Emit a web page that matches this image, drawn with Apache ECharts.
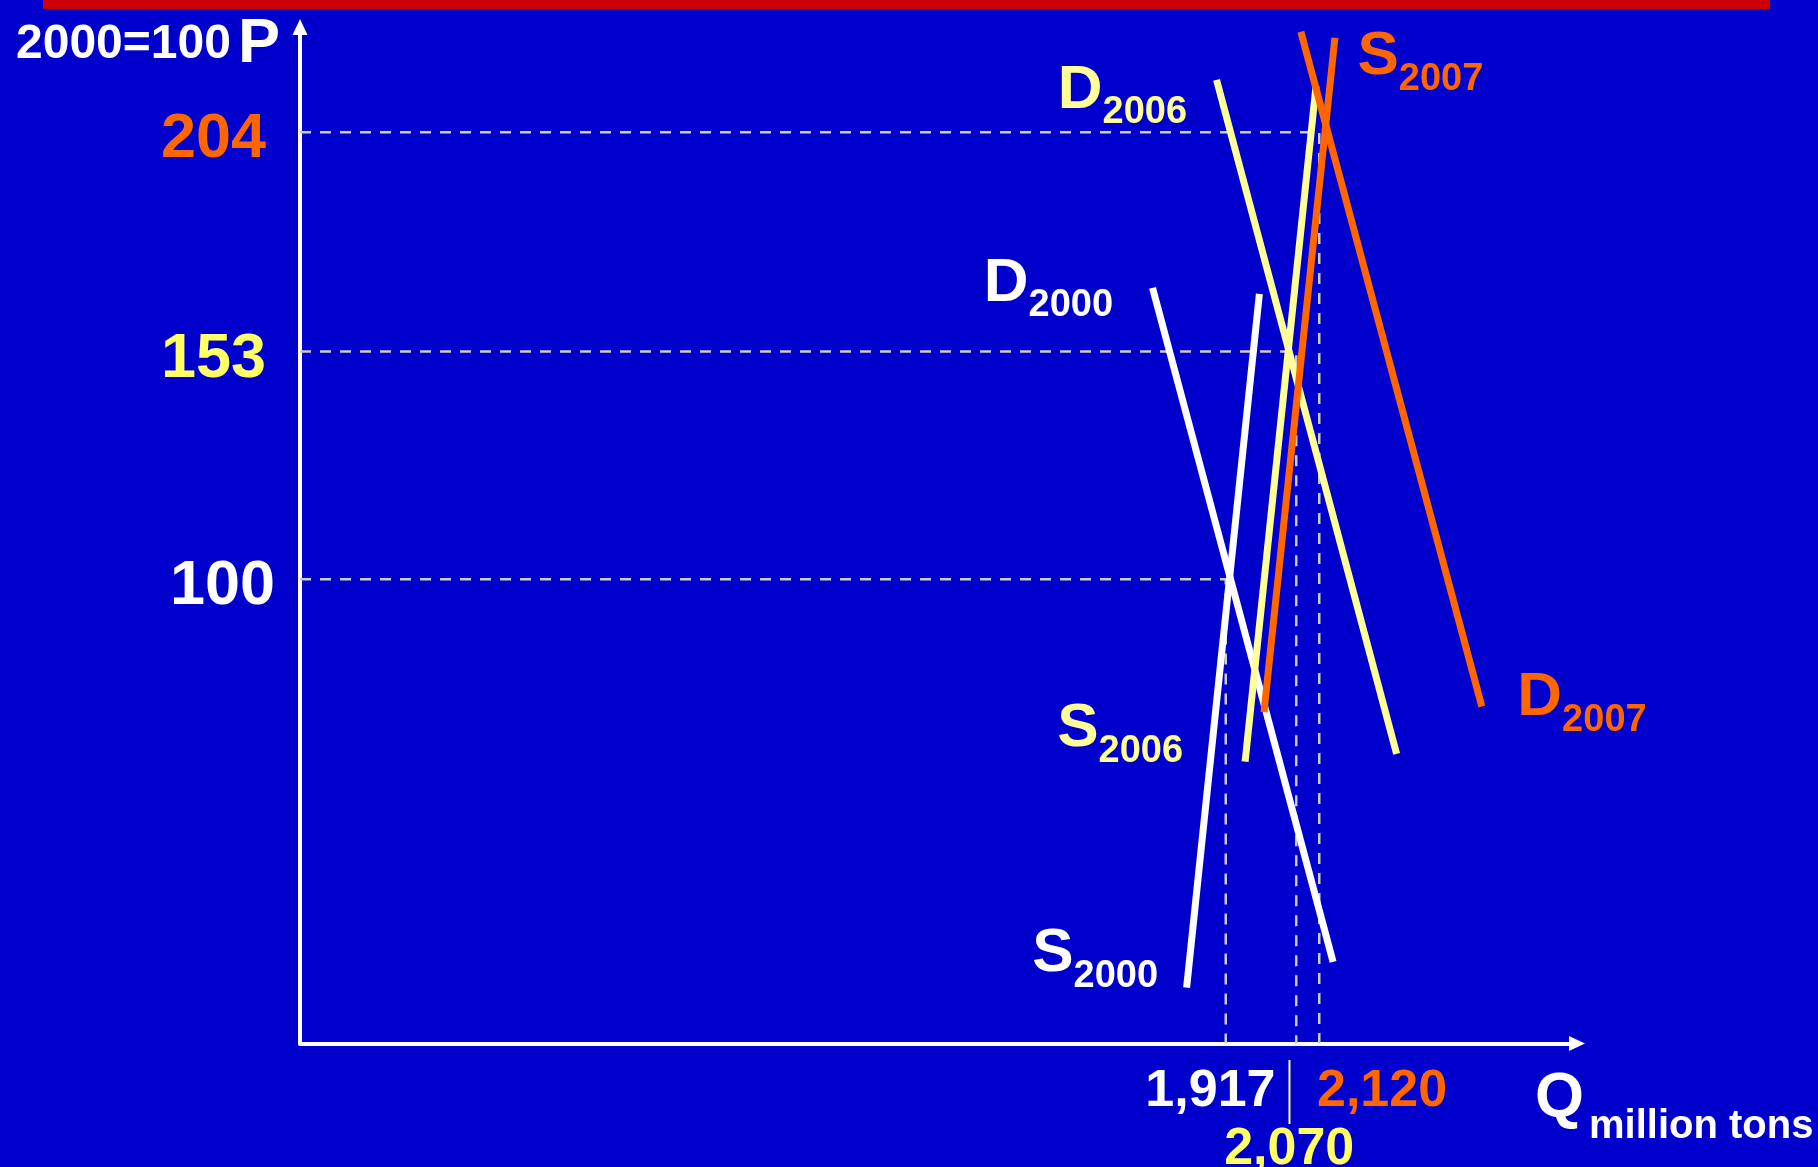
<!DOCTYPE html>
<html><head><meta charset="utf-8">
<script src="https://cdn.jsdelivr.net/npm/echarts@6/dist/echarts.min.js"></script>
<style>html,body{margin:0;padding:0;background:#0000CC;}#c{width:1818px;height:1167px;}</style>
</head><body><div id="c"></div>
<script>
// ---- data ----
const qTicks = [1917, 2070, 2120];   // equilibrium quantities (million tons)
const pTicks = [100, 153, 204];      // equilibrium prices (2000=100)
const S2000 = [[1990, 166.4], [1832, 5.0]];
const D2000 = [[1758, 167.8], [2150, 11.0]];
const S2006 = [[2113, 214.8], [1959, 57.6]];
const D2006 = [[1897, 216.2], [2288, 59.4]];
const S2007 = [[2154, 226.0], [2000, 69.1]];
const D2007 = [[2080, 227.4], [2473, 70.4]];

// ---- styling ----
const FONT = '"Liberation Sans", Arial, sans-serif';
const X_MIN = -93, X_MAX = 2679.6, Y_MIN = -8, Y_MAX = 228.5;
const WHITE = '#FFFFFF', YEL = '#FFFF99', YEL2 = '#FFFF66', ORG = '#FF6600';

function curve(name, data, color, labelIdx, align, offset) {
  const main = name.charAt(0), sub = name.slice(1);
  return {
    type: 'line', name: name, z: 5, silent: true, animation: false,
    symbol: 'circle', symbolSize: 1, showSymbol: true,
    itemStyle: { color: 'rgba(0,0,0,0)' },
    lineStyle: { color: color, width: 7 },
    emphasis: { disabled: true },
    data: data.map(function (d, i) {
      if (i !== labelIdx) return d;
      return {
        value: d,
        label: {
          show: true, position: [0, 0], align: align, verticalAlign: 'middle', offset: offset,
          formatter: '{m|' + main + '}{s|' + sub + '}',
          rich: {
            m: { fontFamily: FONT, fontWeight: 'bold', fontSize: 62, lineHeight: 62, color: color },
            s: { fontFamily: FONT, fontWeight: 'bold', fontSize: 38, lineHeight: 18, padding: [44, 0, 0, 0], color: color }
          }
        }
      };
    })
  };
}

const eqSeries = qTicks.map(function (q, i) {
  return {
    type: 'line', z: 2, silent: true, animation: false, symbol: 'none',
    lineStyle: { color: '#CCCCCC', width: 2.5, type: [11, 9] },
    emphasis: { disabled: true },
    data: [[X_MIN, pTicks[i]], [q, pTicks[i]], [q, Y_MIN]]
  };
});

function fmt(v) { return v.toLocaleString('en-US'); }

const chart = echarts.init(document.getElementById('c'));
chart.setOption({
  backgroundColor: '#0000CC',
  animation: false,
  grid: { left: 300, right: 241, top: 27, bottom: 123.5, containLabel: false, outerBoundsMode: 'none' },
  xAxis: {
    type: 'value', min: X_MIN, max: X_MAX,
    axisLine: { show: true, onZero: false, symbol: ['none', 'triangle'], symbolSize: [15, 16],
      lineStyle: { color: WHITE, width: 4 } },
    axisTick: { show: false }, splitLine: { show: false },
    axisLabel: {
      show: true, customValues: [qTicks[1]], margin: 16.5, hideOverlap: false,
      formatter: function () {
        return '{w|' + fmt(qTicks[0]) + '}{ga|}{sep|}{gb|}{o|' + fmt(qTicks[2]) + '}\n{y|' + fmt(qTicks[1]) + '}{g3|}';
      },
      rich: {
        w: { color: WHITE, fontFamily: FONT, fontWeight: 'bold', fontSize: 52, lineHeight: 52 },
        y: { color: YEL2, fontFamily: FONT, fontWeight: 'bold', fontSize: 52, lineHeight: 52 },
        o: { color: ORG, fontFamily: FONT, fontWeight: 'bold', fontSize: 52, lineHeight: 52 },
        sep: { width: 2, height: 64, backgroundColor: YEL },
        ga: { width: 13, height: 1 },
        gb: { width: 26.5, height: 1 },
        g3: { width: 14, height: 1 }
      }
    }
  },
  yAxis: {
    type: 'value', min: Y_MIN, max: Y_MAX,
    axisLine: { show: true, onZero: false, symbol: ['none', 'triangle'], symbolSize: [15, 16],
      lineStyle: { color: WHITE, width: 4 } },
    axisTick: { show: false }, splitLine: { show: false },
    axisLabel: {
      show: true, customValues: pTicks, margin: 25, hideOverlap: false,
      formatter: function (v) { return '{p' + v + '|' + v + '}'; },
      rich: {
        p100: { color: WHITE, fontFamily: FONT, fontWeight: 'bold', fontSize: 63, lineHeight: 63, padding: [14, 0, 0, 0] },
        p153: { color: YEL2, fontFamily: FONT, fontWeight: 'bold', fontSize: 63, lineHeight: 63, padding: [16, 9, 0, 0] },
        p204: { color: ORG, fontFamily: FONT, fontWeight: 'bold', fontSize: 63, lineHeight: 63, padding: [14, 9, 0, 0] }
      }
    }
  },
  series: eqSeries.concat([
    curve('S2000', S2000, WHITE, 1, 'right', [-28, -33]),
    curve('D2000', D2000, WHITE, 0, 'right', [-39, -3.5]),
    curve('S2006', S2006, YEL, 1, 'right', [-61.5, -32]),
    curve('D2006', D2006, YEL, 0, 'right', [-29, 11.5]),
    curve('S2007', S2007, ORG, 0, 'left', [23, 20]),
    curve('D2007', D2007, ORG, 1, 'left', [36, -8])
  ]),
  graphic: [
    { type: 'rect', silent: true, shape: { x: 43, y: 0, width: 1727, height: 9 }, style: { fill: '#CC0000' } },
    { type: 'text', silent: true, style: { text: '2000=100', x: 16, y: 45.1, verticalAlign: 'middle', align: 'left',
        font: 'bold 48px ' + FONT, fill: WHITE } },
    { type: 'text', silent: true, style: { text: 'P', x: 238, y: 44.5, verticalAlign: 'middle', align: 'left',
        font: 'bold 63px ' + FONT, fill: WHITE } },
    { type: 'text', silent: true, style: { text: 'Q', x: 1535, y: 1099, verticalAlign: 'middle', align: 'left',
        font: 'bold 63px ' + FONT, fill: WHITE } },
    { type: 'text', silent: true, style: { text: 'million tons', x: 1589, y: 1127, verticalAlign: 'middle', align: 'left',
        font: 'bold 40px ' + FONT, fill: WHITE } }
  ]
});
</script>
</body></html>
